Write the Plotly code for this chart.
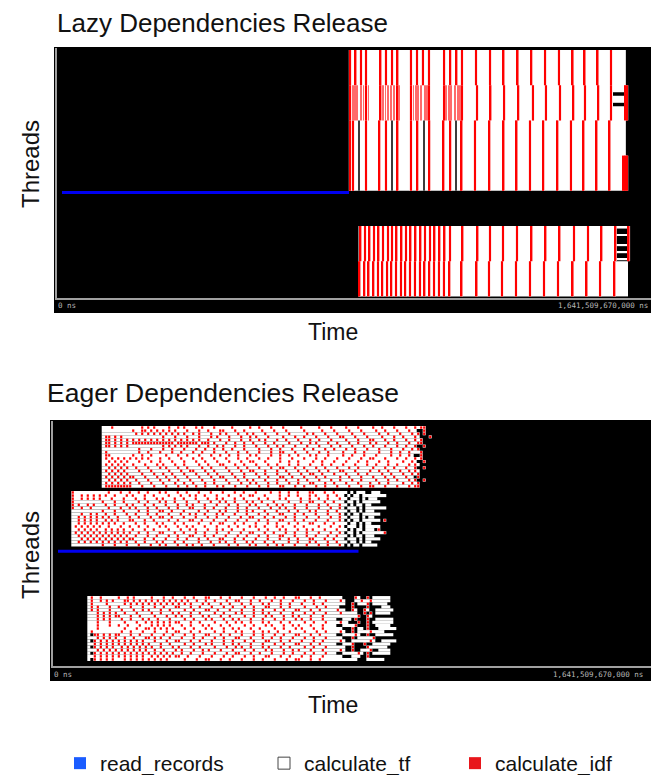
import plotly.graph_objects as go

W, H = 651, 775
T_END = 1641.50967  # seconds  (= 1,641,509,670,000 ns)

# ====================== LAZY panel (times in s, rows = thread index from top) ======================
lazy_read = [(40, 13.8, 807.0)]                      # row, start, end
lazy_tf = [                                          # row_from, row_to, start, end
    (0, 39, 809.7, 1536.5), (0, 11, 1536.5, 1572.0), (13, 14, 1536.5, 1572.0),
    (16, 39, 1536.5, 1572.0),
    (50, 69, 833.2, 1544.8), (60, 69, 1544.8, 1578.0),
]
lazy_tf_tail = [(50, 1545.0, 1578.0), (52, 1545.0, 1578.0), (55, 1545.0, 1578.0),
                (57, 1545.0, 1578.0), (59, 1545.0, 1578.0)]
lazy_idf = [                                         # row_from, row_to, line times
    (0, 9, [810, 825, 840, 854, 894, 909, 926, 941, 978, 995, 1011, 1028, 1070, 1087,
            1104, 1119, 1158, 1197, 1234, 1273, 1311, 1349, 1387, 1425, 1458, 1494, 1531]),
    (10, 19, [810, 854, 894, 941, 978, 1028, 1070, 1119, 1161, 1198, 1236, 1275, 1315,
              1351, 1390, 1427, 1459, 1496, 1531, 1571, 1575]),
    (20, 39, [810, 818, 854, 891, 909, 941, 978, 996, 1029, 1068, 1087, 1118, 1155, 1195,
              1234, 1270, 1307, 1344, 1383, 1420, 1455, 1491, 1527]),
    (30, 39, [1566, 1571, 1575]),
    (50, 59, [838.7, 851.2, 863.6, 876.0, 888.5, 900.9, 914.7, 925.8, 938.2, 952.0, 964.5,
              976.9, 990.7, 1004.5, 1017.0, 1030.8, 1043.2, 1057.0, 1070.9, 1086.1, 1120.6,
              1162.1, 1196.6, 1232.5, 1271.2, 1311.3, 1350.0, 1388.7, 1428.7, 1467.4,
              1504.7, 1543.4, 1580.0]),
    (60, 69, [836.0, 849.5, 861.0, 874.5, 887.0, 899.0, 912.5, 924.0, 937.0, 950.5, 962.5,
              975.5, 989.0, 1003.0, 1015.5, 1029.0, 1042.0, 1055.5, 1069.0, 1084.5, 1118.0,
              1159.5, 1193.8, 1229.7, 1268.4, 1307.0, 1345.8, 1384.5, 1425.0, 1463.5,
              1501.0, 1540.5]),
]
lazy_idf_burst = [                                   # short idf tasks packed in bursts
    (10, 19, [817, 824, 829, 839, 847, 861, 901, 908, 914, 923, 931, 945, 985, 992, 998,
              1007, 1016, 1023, 1076, 1083, 1089, 1099, 1107, 1114]),
]
lazy_gaps = [(20, 39, [835, 925, 1014, 1103])]      # thin idle gaps inside the busy block

# ====================== EAGER panel ======================
eager_read = [(40, 13.7, 838.6)]
# each block: first row, start time (s), seconds per character, rows
# '.' = calculate_tf, 'r' = calculate_idf, ' ' = idle
eager_b1_first, eager_b1_t0, eager_b1_dt = 0, 133.7, 8.235
eager_b1 = [
    "...r......|...r.r.r..|..r..r.r..|.r.r...r..|...r.....r|..r...r...|r.....r...|..r...r...|.r...r....|r..r...r..|.r..r.rr",
    "..........|r..rr.r.r.|r.r.r...r.|..r..r...r|r...r..r..|...r...r..|.r.....r..|...r...r..|..r...r...|.r..r...r.|..r..  r",
    "..........|.r.r.r.r.r|.r.r.r.r..|r.r...r..r|.r...r..r.|r...r...r.|..r.....r.|r...r...r.|...r...r..|..r..r...r|...r.r r",
    ".rr.r.r...|..........|r...r...r.|..r...r.r.|..r...r..r|.r...r....|r...r..r..|.r...r...r|r...r...r.|...r...r..|r...r.   r",
    ".rr.r.r.r.|r.r.r.r.r.|r.r.r.r.r.|r.r..r...r|..r...r..r|..r.r...r.|.r...r...r|..r...r...|.r...r...r|r...r..r..|.r..r.r",
    ".rr.r.r.r.|rrrrrrrrrr|rrrr.rrrrr|rr.rrr.r..|.r..r..r..|r...r..r..|..r...r..r|.r...r..r.|..r..r...r|.r...r..r.|..r..rr",
    ".rr.r.r.r.|..........|r.r.r.r.r.|..r..r..r.|r...r..r..|.r...r..r.|r...r...r.|..r...r..r|...r...r..|r...r...r.|.r..r  r",
    "..........|..r...r...|r..r...r..|.r..r..r..|r..r...r..|..r...r..r|...r...r..|r...r..r..|.r..r...r.|..r...r...|r..r.r",
    ".r........|..r..r...r|...r..r...|r..r...r..|.r...r..r.|..r...r..r|r...r...r.|..r..r....|r...r..r..|..r...r..r|..r...r",
    ".rr.......|r..r..r...|.r...r..r.|..r...r..r|..r..r...r|.r....r..r|..r..r...r|.r...r....|r..r...r..|.r....r..r|..r.  r",
    ".r.r.r.r.r|.r.r.r...r|..r...r...|r..r...r..|.r...r..r.|..r..r...r|...r...r..|.r..r...r.|..r...r..r|r...r...r.|.r..r.r",
    "..r.r.r.r.|..r...r..r|...r...r..|.r..r...r.|..r...r..r|r...r....r|..r..r....|r..r...r..|.r...r..r.|..r..r....|r..r.  r",
    ".r.r.r.r..|r...r...r.|r...r..r..|..r..r...r|r...r..r..|.r...r..r.|..r..r...r|...r..r...|r...r...r.|.r...r..r.|..r.r.",
    "..r.r.r.r.|.r...r...r|.r...r..r.|...r..r...|.r...r..r.|..r...r..r|r...r..r..|.r..r...r.|..r..r....|r...r..r..|.r..r  r",
    ".r.r.r.r..|..r...r...|..r...r..r|r...r..r..|..r...r..r|r...r...r.|.r...r..r.|..r..r...r|r...r....r|..r..r...r|..r.r.",
    "..r.r.r.r.|...r...r..|r..r...r..|.r...r..r.|...r...r..|.r..r...r.|..r...r..r|r..r...r..|.r...r..r.|...r..r...|r..r.r",
    ".r.r.r.r.r|r...r...r.|.r..r...r.|..r...r..r|r...r..r..|..r..r...r|r..r...r..|.r..r....r|..r...r...|r...r..r..|.r.. r",
    "..r.r.r.r.|.r...r...r|..r..r...r|...r...r..|.r...r..r.|r...r...r.|.r...r..r.|..r...r..r|...r..r...|.r...r..r.|..r.r  r",
    ".r.r.r.r.r|..r...r...|r...r..r..|r...r..r..|..r...r..r|.r...r..r.|..r..r...r|r...r..r..|.r...r...r|..r..r....|r..r.r",
    ".rrrrrrrrr|...r...r..|.r...r..r.|.r..r...r.|r...r...r.|..r..r...r|r...r..r..|.r..r...r.|..r...r..r|r...r...r.|..r.rr",
]
eager_b2_first, eager_b2_t0, eager_b2_dt = 21, 50.2, 8.235
eager_b2 = [
    "r.........|..r...r..r|..r..r...r|.r...r..r.|..r...r...|r...r..r..|.r....r..r|..r..r...r|r...r..r..|.. . ...  |...",
    "r..r.r.r.r|.r..r...r.|r...r..r..|..r...r..r|.r..r...r.|..r...r..r|r...r....r|..r..r...r|.r...r..r.|. . .. ..|......",
    "r..r.r.r.r|...r...r..|.r..r...r.|r...r..r..|.r...r..r.|r...r..r..|..r..r...r|.r....r..r|..r..r...r|.. ... . .|..",
    "r.........|r...r..r..|..r..r...r|.r..r...r.|..r...r..r|.r..r...r.|r..r...r..|..r...r..r|r...r..r..|. .. . ..|....",
    "r.r..r.r..|.r..r...r.|r...r..r..|.r...r..r.|r...r...r.|..r..r...r|.r...r..r.|r...r...r.|..r..r...r|.. . .. ..",
    "r..r..r...|..r...r..r|.r...r..r.|..r..r...r|r...r..r..|.r...r..r.|..r...r..r|.r..r...r.|..r...r..r|. ... . ..|.....",
    "..........|r...r..r..|..r..r...r|r..r...r..|..r..r...r|.r...r..r.|r...r...r.|..r..r...r|.r...r..r.|.. .. . .|..",
    "...r..r.r.|.r..r...r.|.r...r..r.|..r...r..r|.r..r...r.|r...r...r.|..r..r...r|r...r..r..|.r...r...r|. . .. ..|....",
    "..r.r.r.r.|r.r..r...r|..r...r..r|r..r...r..|.r...r..r.|..r...r..r|r...r..r..|.r..r...r.|..r...r..r|.. ... . |..",
    "..r.r.r.r.|.r.r.r...r|r...r..r..|..r..r...r|r..r...r..|.r...r..r.|..r..r...r|r...r..r..|.r...r...r|. . .. ..|.... r",
    "..r.r.r.r.|r.r.r..r..|.r..r...r.|r...r..r..|..r...r..r|r...r..r..|.r...r..r.|..r..r...r|r...r..r..|.. .. . .|.",
    ".r.r.r.r.r|..r...r..r|..r..r...r|.r...r..r.|r...r...r.|..r..r...r|.r..r...r.|r...r..r..|..r...r..r|. ... . .|....",
    "..r.r.r.r.|.r.r.r.r..|r...r..r..|..r...r..r|.r...r..r.|r..r...r..|..r..r...r|.r...r..r.|r...r...r.|.. . .. .|.. r",
    ".r.r.r.r.r|.r.r.r.r.r|..r..r...r|r...r..r..|.r..r...r.|..r...r..r|r...r..r..|.r..r...r.|..r...r..r|. .. . ..|.....r",
    "..r.r.r.r.|r.r.r.r.r.|.r...r..r.|..r..r...r|r...r..r..|.r...r..r.|..r..r...r|r...r...r.|.r...r..r.|.. . .. .|..",
    "...r.r.r.r|.r.r.r.r.r|r...r..r..|.r...r..r.|..r..r...r|r...r..r..|.r...r...r|..r..r...r|r...r..r..|. ... . .|....",
    "..r.r.r.r.|r.r.r.r.r.|.r..r...r.|r...r..r..|..r...r..r|.r..r...r.|r...r..r..|..r..r...r|.r...r..r.|.. .. . .|.",
    "..........|r...r...r.|..r...r..r|.r...r..r.|r..r...r..|..r..r...r|.r...r..r.|r...r...r.|..r..r...r|. . .. ..|...",
]
eager_b3_first, eager_b3_t0, eager_b3_dt = 55, 94.2, 8.235
eager_b3 = [
    ".r..r.....|r..r.r....|.r...r..r.|..r..r...r|r...r..r..|.r...r...r|..r..r...r|r...r..r..|.....    r.  r ......",
    ".r..r.r.r.|..rr.r.r.r|.r.r.r.r.r|.r.r..r..r|..r...r..r|r...r..r..|.r..r...r.|..r..r...r|....r.   ..r..r......",
    ".r....r...|..r.r.r.r.|r.r.r.r.r.|r.r.r...r.|r...r..r..|.r..r...r.|r...r..r..|.r...r..r.|......  r ...r .....",
    ".r.r...r..|r...r...r.|..r..r...r|r...r..r..|.r...r..r.|..r..r...r|r...r..r..|..r...r..r|....    r    r    ...",
    ".r.r...r..|.r...r..r.|r...r..r..|..r..r...r|r..r...r..|.r...r..r.|..r..r...r|r...r..r..|...r..  r.  r.  ......",
    "...r.r.r.r|..r...r...|.r..r...r.|r...r..r..|..r..r...r|.r...r..r.|r...r...r.|..r..r...r|....r.....  r r .....",
    "...r.r.r.r|r...r..r..|..r...r..r|.r..r...r.|r...r..r..|..r..r...r|.r...r..r.|r...r...r.|..........r  r.",
    "...r.r.r..|.r..r...r.|r..r...r..|..r..r...r|.r...r..r.|r...r...r.|..r..r...r|.r..r...r.|...  ... r   r  ......",
    "...r...r..|..r...r..r|.r.r.r.r.r|r...r..r..|..r...r..r|.r..r...r.|r...r..r..|..r..r...r|....r..   r  r .......",
    "...r...r..|r..r...r..|.r.r.r.r..|.r..r...r.|r...r..r..|..r..r...r|.r...r..r.|r...r...r.|...  ....r   r  .....",
    "...r......|..r...r..r|r.r.r.r.r.|..r..r...r|.r...r..r.|r...r..r..|..r..r...r|.r...r..r.|.....   r .. r   ......",
    ".r........|.r..r...r.|..r...r..r|r...r..r..|..r..r...r|.r...r..r.|r..r...r..|..r...r..r|....r.  r ....r....",
    ". rr.r.r.r|r...r..r..|.r...r..r.|..r..r...r|r...r..r..|.r...r..r.|..r..r...r|r...r..r..|...  ....r.  r  ......",
    "...r.r.r.r|..r..r...r|r.r.r..r..|.r...r..r.|..r..r...r|r...r...r.|.r..r...r.|..r..r...r|.....   r .....r",
    ". r.r.r.r.|r.r.r.r.r.|..r...r..r|r...r..r..|.r...r..r.|..r..r...r|r...r..r..|.r...r..r.|....r.  ......r.  .....",
    "..r.r.r.r.|r.r.r.r.r.|r...r..r..|..r..r...r|.r...r..r.|r...r...r.|..r..r...r|r...r..r..|...  ...r   r  ......",
    ". r.r.r.r.|.r.r.r.r.r|.r..r...r.|r...r..r..|..r...r..r|.r..r...r.|r...r..r..|..r..r...r|......  r    r......",
    "...r.r.r.r|.r.r.r.r.r|..r..r...r|.r...r..r.|r...r...r.|..r..r...r|.r...r..r.|r...r...r.|....r.  r  ...r  ....",
    ". r.r.r.r.|r.r.r.r.r.|r.r.r.r.r.|.r..r...r.|..r...r..r|r...r..r..|.r...r..r.|..r..r...r|...  .....r. r ......",
    "..r.r.r.r.|r.r.r.r.r.|.r.r.r.r.r|r..r...r..|.r...r..r.|..r..r...r|r...r..r..|.r..r...r.|.....   ...  r",
    ". r.r.r.r.|..r.r.r.r.|r.r.r.r...|..r...r..r|r...r..r..|.r...r..r.|..r...r..r|r...r..r..|..........   ......",
]

# ====================== styles ======================
C_BLUE, C_RED, C_PINK, C_WHITE, C_GAP = "#0000f0", "#ff0000", "#ffc4c4", "#ffffff", "#3c3c3c"
C_BURST = "#ff6a6a"
LINE_W, HALO_W, GAP_W, BURST_W = 4.2, 7.5, 2.8, 2.4   # drawn widths (s)
DOT_W, DOT_H = 0.72, 0.78                        # eager idf dot size (fraction of cell)
AXIS_C = "#a0a0a0"
FONT = "Liberation Sans, Arial, Helvetica, sans-serif"
MONO = "DejaVu Sans Mono, monospace"


def hbar(ys, lens, bases, widths, color, xa, ya):
    return go.Bar(orientation="h", y=ys, x=lens, base=bases, width=widths,
                  marker=dict(color=color, line=dict(width=0)), xaxis=xa, yaxis=ya,
                  showlegend=False, hoverinfo="skip")


def spans(items, xa, ya, color, thick=1.0):
    ys, ls, bs, ws = [], [], [], []
    for r0, r1, a, b in items:
        ys.append((r0 + r1) / 2); ws.append((r1 - r0 + 1) * thick); bs.append(a); ls.append(b - a)
    return hbar(ys, ls, bs, ws, color, xa, ya)


def lines(groups, xa, ya, color, w):
    ys, ls, bs, ws = [], [], [], []
    for r0, r1, ts in groups:
        for t in ts:
            ys.append((r0 + r1) / 2); ws.append(r1 - r0 + 1); bs.append(t - w / 2); ls.append(w)
    return hbar(ys, ls, bs, ws, color, xa, ya)


def white_runs(first, t0, dt, rows):
    ys, ls, bs, ws = [], [], [], []
    for k, raw in enumerate(rows):
        s = raw.replace("|", "").replace("r", ".")
        i = 0
        while i < len(s):
            j = i
            while j < len(s) and s[j] == s[i]:
                j += 1
            if s[i] == ".":
                ys.append(first + k); ws.append(1.0); bs.append(t0 + i * dt); ls.append((j - i) * dt)
            i = j
    return ys, ls, bs, ws


def red_dots(first, t0, dt, rows):
    ys, ls, bs, ws = [], [], [], []
    for k, raw in enumerate(rows):
        s = raw.replace("|", "")
        for i, c in enumerate(s):
            if c == "r":
                ys.append(first + k); ws.append(DOT_H)
                bs.append(t0 + (i + (1 - DOT_W) / 2) * dt); ls.append(DOT_W * dt)
    return ys, ls, bs, ws


fig = go.Figure()
# ---- lazy
fig.add_trace(spans(lazy_tf, "x", "y", C_WHITE))
fig.add_trace(hbar([r for r, a, b in lazy_tf_tail], [b - a for r, a, b in lazy_tf_tail],
                   [a for r, a, b in lazy_tf_tail], [0.45] * len(lazy_tf_tail), C_WHITE, "x", "y"))
fig.add_trace(lines(lazy_idf, "x", "y", C_PINK, HALO_W))
fig.add_trace(lines(lazy_idf, "x", "y", C_RED, LINE_W))
fig.add_trace(lines(lazy_idf_burst, "x", "y", C_BURST, BURST_W))
fig.add_trace(lines(lazy_gaps, "x", "y", C_GAP, GAP_W))
fig.add_trace(spans([(r, r, a, b) for r, a, b in lazy_read], "x", "y", C_BLUE, 0.85))
# ---- eager
for first, t0, dt, rows in [(eager_b1_first, eager_b1_t0, eager_b1_dt, eager_b1),
                            (eager_b2_first, eager_b2_t0, eager_b2_dt, eager_b2),
                            (eager_b3_first, eager_b3_t0, eager_b3_dt, eager_b3)]:
    fig.add_trace(hbar(*white_runs(first, t0, dt, rows), C_WHITE, "x2", "y2"))
    fig.add_trace(hbar(*red_dots(first, t0, dt, rows), C_RED, "x2", "y2"))
fig.add_trace(spans([(r, r, a, b) for r, a, b in eager_read], "x2", "y2", C_BLUE, 0.95))

# ---- legend entries (one legend box per entry so each sits where the reference has it)
for nm, col, lc, lw, lg in [("read_records", "#1a5cff", "#1a5cff", 0, "legend"),
                            ("calculate_tf", "#ffffff", "#444444", 1, "legend2"),
                            ("calculate_idf", "#e8161b", "#e8161b", 0, "legend3")]:
    fig.add_trace(go.Bar(x=[None], y=[None], orientation="h", name=nm, xaxis="x2", yaxis="y2",
                         marker=dict(color=col, line=dict(color=lc, width=lw)),
                         showlegend=True, legend=lg))


def px(x):
    return x / W


def py(y):
    return 1 - y / H


def legend_at(x):
    return dict(orientation="h", x=px(x), y=py(743), xanchor="left", yanchor="top",
                font=dict(family=FONT, size=21, color="#111111"), bgcolor="rgba(0,0,0,0)")


ax_common = dict(showgrid=False, zeroline=False, showticklabels=False, ticks="",
                 showline=True, linecolor=AXIS_C, fixedrange=True)
fig.update_layout(
    width=W, height=H, template="none",
    margin=dict(l=0, r=0, t=0, b=0, autoexpand=False),
    paper_bgcolor="white", plot_bgcolor="black", barmode="overlay",
    xaxis=dict(domain=[px(57), 1], range=[0, T_END], anchor="y", linewidth=2, **ax_common),
    yaxis=dict(domain=[py(298), py(48)], range=[69.95, -1.068], anchor="x", linewidth=1.5, **ax_common),
    xaxis2=dict(domain=[px(53), 1], range=[0, T_END], anchor="y2", linewidth=2, **ax_common),
    yaxis2=dict(domain=[py(666), py(421)], range=[77.12, -2.117], anchor="x2", linewidth=1.5, **ax_common),
    showlegend=True,
    legend=legend_at(60), legend2=legend_at(264), legend3=legend_at(455),
    font=dict(family=FONT),
    shapes=[
        dict(type="rect", xref="paper", yref="paper", x0=px(54), x1=1, y0=py(313), y1=py(47),
             fillcolor="black", line=dict(width=0), layer="below"),
        dict(type="rect", xref="paper", yref="paper", x0=px(50), x1=1, y0=py(681), y1=py(420),
             fillcolor="black", line=dict(width=0), layer="below"),
    ],
)

ann = []


def text(x, y, s, size, xanchor="center", angle=0, color="#111111", family=FONT):
    ann.append(dict(x=px(x), y=py(y), xref="paper", yref="paper", text=s, showarrow=False,
                    xanchor=xanchor, yanchor="middle", textangle=angle,
                    font=dict(size=size, color=color, family=family)))


text(55, 22.5, "Lazy Dependencies Release", 26, "left")
text(45, 393, "Eager Dependencies Release", 26.5, "left")
text(30, 164, "Threads", 24, angle=-90)
text(30, 555, "Threads", 24, angle=-90)
text(333, 332, "Time", 23)
text(333, 705, "Time", 23)
text(56, 306, "0 ns", 7.5, "left", color="#b8b8b8", family=MONO)
text(650, 306, "1,641,509,670,000 ns", 7.5, "right", color="#b8b8b8", family=MONO)
text(52, 674, "0 ns", 7.5, "left", color="#b8b8b8", family=MONO)
text(645, 674, "1,641,509,670,000 ns", 7.5, "right", color="#b8b8b8", family=MONO)
fig.update_layout(annotations=ann)

fig.write_html("out.html")
